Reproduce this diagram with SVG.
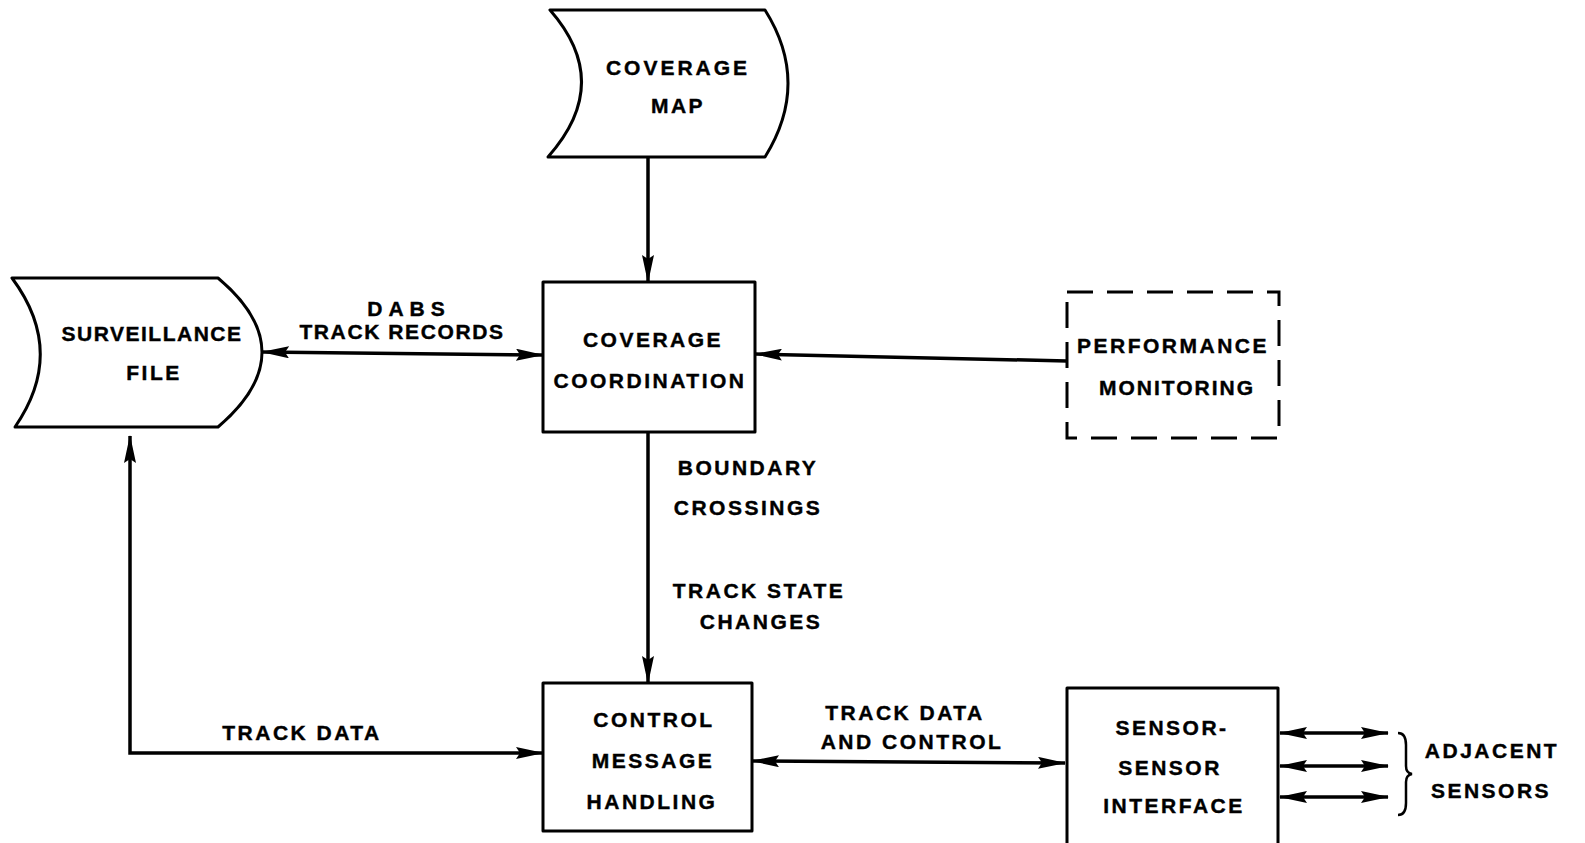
<svg xmlns="http://www.w3.org/2000/svg" width="1585" height="843" viewBox="0 0 1585 843">
<style>
.shape{fill:#fff;stroke:#000;stroke-width:3;stroke-linejoin:round}
.dash{fill:#fff;stroke:#000;stroke-width:3;stroke-dasharray:26 14}
.ln{fill:none;stroke:#000;stroke-width:3.5}
text{font-family:"Liberation Sans",Arial,sans-serif;font-weight:bold;font-size:21px;letter-spacing:2.5px;text-anchor:middle;fill:#000;stroke:#000;stroke-width:0.4}
</style>
<defs>
<marker id="ah" viewBox="0 0 28 12" refX="27" refY="6" markerWidth="28" markerHeight="12" markerUnits="userSpaceOnUse" orient="auto-start-reverse">
<path d="M0,0 L28,6 L0,12 L4,6 Z" fill="#000"/>
</marker>
</defs>
<rect width="1585" height="843" fill="#fff"/>
<g id="connectors">
<line class="ln" x1="648" y1="157" x2="648" y2="282" marker-end="url(#ah)"/>
<line class="ln" x1="262" y1="352" x2="543" y2="355" marker-start="url(#ah)" marker-end="url(#ah)"/>
<line class="ln" x1="1067" y1="361" x2="755" y2="354" marker-end="url(#ah)"/>
<line class="ln" x1="648" y1="432" x2="648" y2="683" marker-end="url(#ah)"/>
<polyline class="ln" points="130,436 130,753 543,753" marker-start="url(#ah)" marker-end="url(#ah)"/>
<line class="ln" x1="752" y1="761" x2="1065" y2="763" marker-start="url(#ah)" marker-end="url(#ah)"/>
<line class="ln" x1="1280" y1="733" x2="1388" y2="733" marker-start="url(#ah)" marker-end="url(#ah)"/>
<line class="ln" x1="1280" y1="766" x2="1388" y2="766" marker-start="url(#ah)" marker-end="url(#ah)"/>
<line class="ln" x1="1280" y1="797" x2="1388" y2="797" marker-start="url(#ah)" marker-end="url(#ah)"/>
<path d="M1398,733 Q1406,733 1406,745 L1406,766 Q1406,773 1412,774 Q1406,775 1406,782 L1406,803 Q1406,815 1398,815" fill="none" stroke="#000" stroke-width="2.5"/>
<text x="409" y="316" style="letter-spacing:6px">DABS</text>
<text x="402" y="339" style="letter-spacing:1.6px">TRACK RECORDS</text>
<text x="748" y="475">BOUNDARY</text>
<text x="748" y="515">CROSSINGS</text>
<text x="759" y="598">TRACK STATE</text>
<text x="761" y="629">CHANGES</text>
<text x="302" y="740">TRACK DATA</text>
<text x="905" y="720">TRACK DATA</text>
<text x="912" y="749">AND CONTROL</text>
<text x="1492" y="758">ADJACENT</text>
<text x="1491" y="798">SENSORS</text>
</g>
<g id="coverage-map">
<path class="shape" d="M550,10 L765,10 Q811,83 765,157 L548,157 Q614,83 550,10 Z"/>
<text x="678" y="75" style="letter-spacing:3px">COVERAGE</text>
<text x="678" y="113">MAP</text>
</g>
<g id="surveillance-file">
<path class="shape" d="M12,278 L218,278 Q306,352 218,427 L15,427 Q67,352 12,278 Z"/>
<text x="152" y="341" style="letter-spacing:1.5px">SURVEILLANCE</text>
<text x="154" y="380">FILE</text>
</g>
<g id="coverage-coordination">
<rect class="shape" x="543" y="282" width="212" height="150"/>
<text x="653" y="347">COVERAGE</text>
<text x="650" y="388" style="letter-spacing:2.5px">COORDINATION</text>
</g>
<g id="performance-monitoring">
<rect class="dash" x="1067" y="292" width="212" height="146"/>
<text x="1173" y="353" style="letter-spacing:2.5px">PERFORMANCE</text>
<text x="1177" y="395" style="letter-spacing:2px">MONITORING</text>
</g>
<g id="control-message-handling">
<rect class="shape" x="543" y="683" width="209" height="148"/>
<text x="654" y="727">CONTROL</text>
<text x="653" y="768">MESSAGE</text>
<text x="652" y="809">HANDLING</text>
</g>
<g id="sensor-sensor-interface">
<rect class="shape" x="1067" y="688" width="211" height="160"/>
<text x="1172" y="735">SENSOR-</text>
<text x="1170" y="775">SENSOR</text>
<text x="1174" y="813">INTERFACE</text>
</g>
</svg>
